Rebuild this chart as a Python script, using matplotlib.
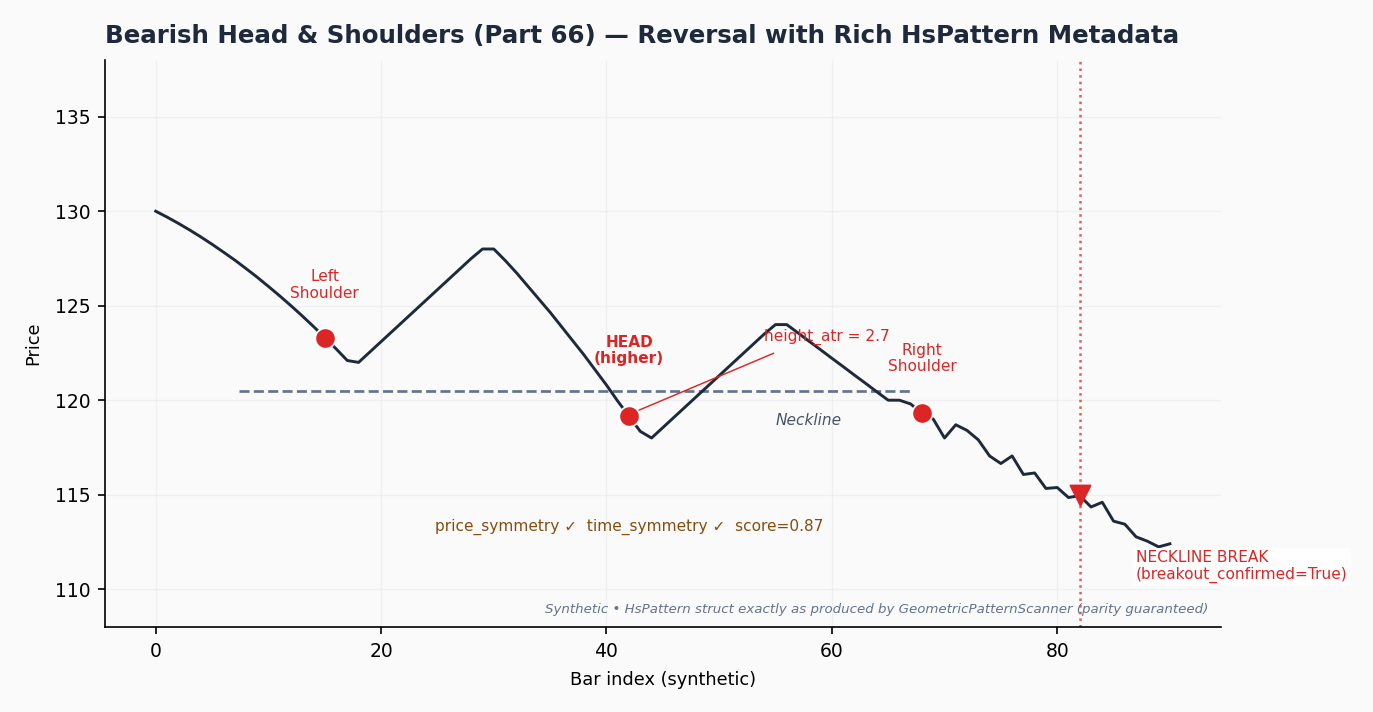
import matplotlib.pyplot as plt
import numpy as np

# price series
bars = np.arange(91)
price = [
    130.0, 129.69, 129.36, 129.01, 128.64, 128.25, 127.84, 127.42, 126.97, 126.51,
    126.02, 125.52, 125.0, 124.46, 123.9, 123.32, 122.72, 122.1, 122.0, 122.55,
    123.1, 123.65, 124.2, 124.75, 125.3, 125.85, 126.4, 126.95, 127.5, 128.0,
    128.0, 127.4, 126.75, 126.05, 125.35, 124.65, 123.9, 123.15, 122.4, 121.6,
    120.8, 119.95, 119.15, 118.35, 118.0, 118.55, 119.1, 119.65, 120.2, 120.75,
    121.3, 121.85, 122.4, 122.95, 123.5, 124.0, 124.0, 123.56, 123.11, 122.67,
    122.22, 121.78, 121.33, 120.89, 120.44, 120.0, 120.0, 119.8, 119.3, 119.0,
    118.0, 118.7, 118.4, 117.9, 117.05, 116.65, 117.05, 116.07, 116.15, 115.33,
    115.38, 114.85, 114.95, 114.35, 114.6, 113.6, 113.44, 112.77, 112.54, 112.24,
    112.4,
]

# pattern points
pivot_x = [15, 42, 68]
pivot_y = [123.3, 119.15, 119.3]
neckline_x = [7.4, 67.0]
neckline_y = 120.5
breakout_x = 82
breakout_y = 115.0

RED = '#dc2626'
SLATE = '#64748b'
DARK = '#1e293b'

fig, ax = plt.subplots(figsize=(1373 / 150, 712 / 150), dpi=150)
fig.patch.set_facecolor('#fafafa')
ax.set_facecolor('#fafafa')
fig.subplots_adjust(left=0.0765, right=0.889, top=0.9157, bottom=0.1194)

ax.grid(True, color='#e5e7eb', alpha=0.5, linewidth=0.6)
ax.set_axisbelow(True)

ax.plot(bars, price, color=DARK, linewidth=1.4, zorder=3)

# neckline
ax.plot(neckline_x, [neckline_y, neckline_y], color=SLATE, linestyle='--',
        linewidth=1.3, zorder=2)

# shoulders / head
ax.scatter(pivot_x, pivot_y, s=95, color=RED, edgecolor='white',
           linewidth=0.8, zorder=5)

# breakout
ax.axvline(breakout_x, color=RED, linestyle=':', linewidth=1.2, alpha=0.75, zorder=2)
ax.scatter([breakout_x], [breakout_y], marker='v', s=90, color=RED, zorder=6)

# labels
ax.text(15, 126.1, 'Left\nShoulder', color=RED, fontsize=7.4, ha='center',
        va='center', linespacing=1.1)
ax.text(42, 122.65, 'HEAD\n(higher)', color=RED, fontsize=7.4, ha='center',
        va='center', fontweight='bold', linespacing=1.1)
ax.text(68, 122.2, 'Right\nShoulder', color=RED, fontsize=7.4, ha='center',
        va='center', linespacing=1.1)

ax.annotate('height_atr = 2.7', xy=(pivot_x[1] + 0.6, pivot_y[1] + 0.25),
            xytext=(54.0, 123.35), color=RED, fontsize=7.4, va='center', ha='left',
            arrowprops=dict(arrowstyle='-', color=RED, lw=0.7,
                            shrinkA=5, shrinkB=0, relpos=(0.23, 0.0)))

ax.text(57.9, 118.95, 'Neckline', color='#475569', fontsize=7.4,
        fontstyle='italic', ha='center', va='center')

ax.text(42, 113.3, 'price_symmetry \u2713  time_symmetry \u2713  score=0.87',
        color='#854d0e', fontsize=7.4, ha='center', va='center')

ax.text(87, 111.2, 'NECKLINE BREAK\n(breakout_confirmed=True)', color=RED,
        fontsize=7.4, ha='left', va='center', linespacing=1.1,
        bbox=dict(facecolor='white', edgecolor='none', pad=1.5, alpha=0.9))

ax.text(0.989, 0.02,
        'Synthetic \u2022 HsPattern struct exactly as produced by GeometricPatternScanner (parity guaranteed)',
        transform=ax.transAxes, ha='right', va='bottom', fontsize=6.4,
        fontstyle='italic', color=SLATE)

ax.set_xlim(-4.5, 94.5)
ax.set_ylim(108, 138)
ax.set_xticks([0, 20, 40, 60, 80])
ax.set_yticks([110, 115, 120, 125, 130, 135])
ax.tick_params(labelsize=9)

ax.spines['top'].set_visible(False)
ax.spines['right'].set_visible(False)

ax.set_xlabel('Bar index (synthetic)', fontsize=8.5, labelpad=5)
ax.set_ylabel('Price', fontsize=8.5, labelpad=6)
ax.set_title('Bearish Head & Shoulders (Part 66) \u2014 Reversal with Rich HsPattern Metadata',
             loc='left', fontsize=11.75, fontweight='bold', color=DARK, pad=8)

plt.savefig('out.png', dpi=150, facecolor=fig.get_facecolor())
plt.close()
